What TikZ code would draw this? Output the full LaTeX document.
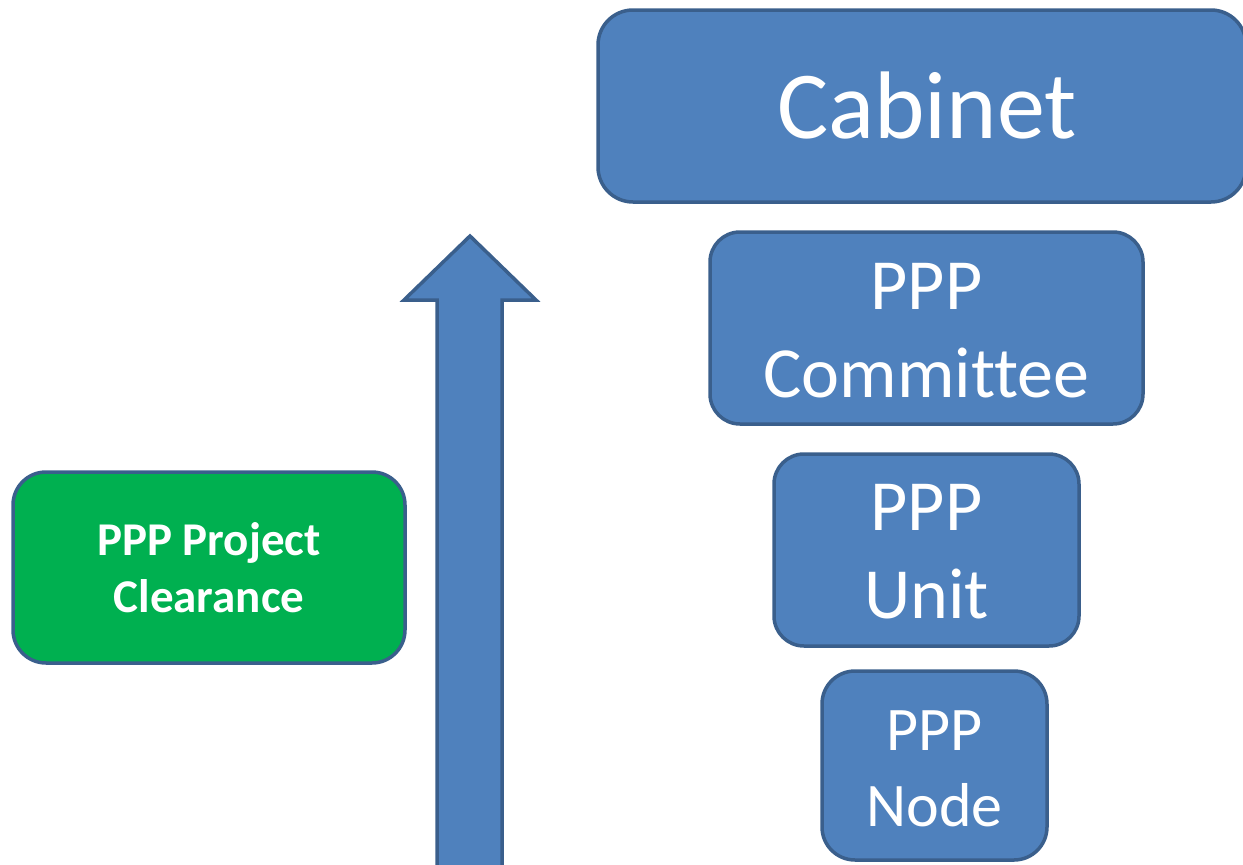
\documentclass[tikz,border=0pt]{standalone}
\usepackage{fontspec}
\setmainfont{Carlito}[Ligatures=NoCommon]
\definecolor{boxblue}{HTML}{4F81BD}
\definecolor{edgeblue}{HTML}{3A5F8C}
\definecolor{boxgreen}{HTML}{00B050}
\newcommand{\twolines}[3]{\raisebox{#1}[0pt][0pt]{\begin{tabular}{@{}c@{}}#2\\#3\end{tabular}}}
\begin{document}
\begin{tikzpicture}[x=1pt,y=-1pt,
  panel/.style={draw=edgeblue, line width=3.5pt, fill=boxblue, text=white,
    align=center, inner sep=0pt, rounded corners=#1},
  panel/.default=30pt]
\useasboundingbox (0,0) rectangle (1243,865);
% upward arrow
\filldraw[fill=boxblue, draw=edgeblue, line width=3.5pt, line join=miter]
  (437,880) -- (437,300) -- (404,300) -- (470,236) -- (536,300)
  -- (502,300) -- (502,880) -- cycle;
% stacked bodies
\node[panel=35pt, minimum width=648pt, minimum height=192pt,
      font=\fontsize{96}{110}\selectfont] (cab) at (922,106) {\hspace*{10pt}\raisebox{2pt}{Cabinet}};
\node[panel=30pt, minimum width=433pt, minimum height=192pt,
      font=\fontsize{72}{88}\selectfont] (com) at (926.5,328) {\twolines{-14pt}{PPP}{Committee}};
\node[panel=30pt, minimum width=305pt, minimum height=192pt,
      font=\fontsize{72}{88}\selectfont] (unit) at (926.5,550) {\twolines{-13pt}{PPP}{Unit}};
\node[panel=33pt, minimum width=225pt, minimum height=189pt,
      font=\fontsize{62}{76}\selectfont] (pnode) at (934.5,765.5) {\twolines{-14.5pt}{PPP}{Node}};
% clearance box
\node[panel=33pt, fill=boxgreen, minimum width=392pt, minimum height=191pt,
      font=\bfseries\fontsize{47}{57}\selectfont] (clear) at (209,567.5) {PPP Project\\Clearance};
\end{tikzpicture}
\end{document}
